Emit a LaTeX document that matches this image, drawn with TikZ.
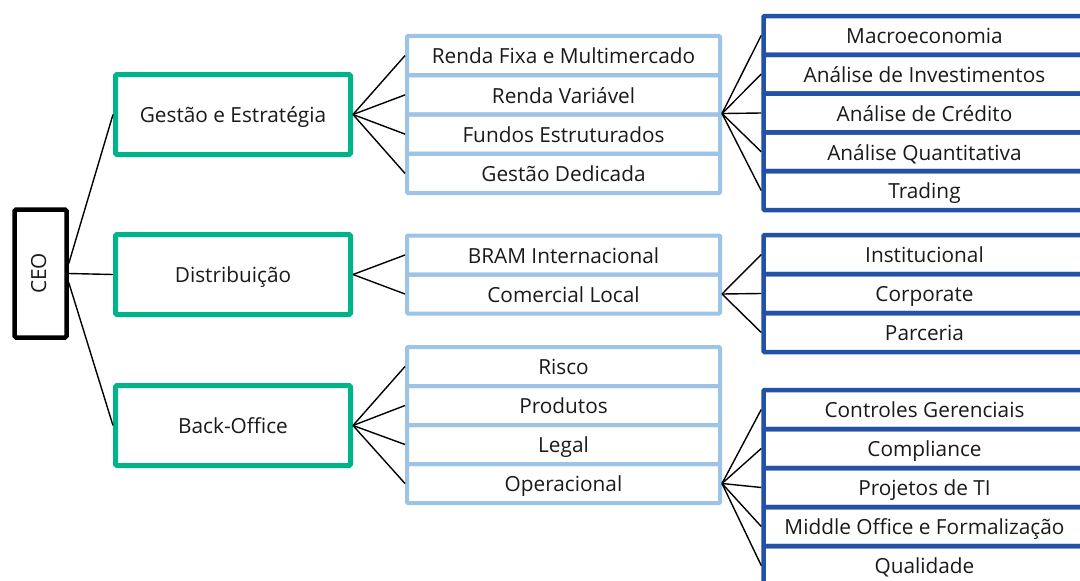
\documentclass[tikz,border=0pt]{standalone}
\usepackage{fontspec}
\setmainfont{Open Sans}
\definecolor{tealg}{HTML}{00B48A}
\definecolor{lblue}{HTML}{9DC3E6}
\definecolor{dblue}{HTML}{2251A5}
\definecolor{txt}{HTML}{1A1A1A}
\begin{document}
\begin{tikzpicture}[x=1pt,y=-1pt,
  every node/.style={font=\fontsize{20.8}{25}\selectfont, text=txt, inner sep=0pt, text height=16.5pt, text depth=0pt},
  ceobox/.style={draw=black, line width=4.5pt, rounded corners=1.5pt, minimum width=52pt, minimum height=128pt},
  lvl1/.style={draw=tealg, line width=5pt, rounded corners=1.5pt, minimum width=235pt, minimum height=80pt},
  lvl2/.style={draw=lblue, line width=4pt, rounded corners=1pt, minimum width=313pt, minimum height=39.25pt},
  lvl3/.style={draw=dblue, line width=4.5pt, rounded corners=1pt, minimum width=322pt, minimum height=38.8pt},
  link/.style={draw=black, line width=1.4pt}]
\useasboundingbox (0,0) rectangle (1080,581);
\fill[white] (0,0) rectangle (1080,581);

% CEO
\node[ceobox] (ceo) at (40.5,273.5) {};
\node[rotate=90, text height=15pt, text depth=4pt] (ceot) at (ceo.center) {CEO};

% level 1
\node[lvl1] (ge) at (233,114.5) {Gestão e Estratégia};
\node[lvl1] (di) at (233,274.5) {Distribuição};
\node[lvl1] (bo) at (233,425.5) {Back-Office};

% level 2 group 1
\node[lvl2] (rf) at (563.5,55.6) {Renda Fixa e Multimercado};
\node[lvl2] (rv) at (563.5,94.9) {Renda Variável};
\node[lvl2] (fe) at (563.5,134.1) {Fundos Estruturados};
\node[lvl2] (gd) at (563.5,173.4) {Gestão Dedicada};
% level 2 group 2
\node[lvl2, minimum height=39pt] (bi) at (563.5,255) {BRAM Internacional};
\node[lvl2, minimum height=39pt] (cl) at (563.5,294) {Comercial Local};
% level 2 group 3
\node[lvl2, minimum height=39pt] (ri) at (563.5,366.5) {Risco};
\node[lvl2, minimum height=39pt] (pr) at (563.5,405.5) {Produtos};
\node[lvl2, minimum height=39pt] (le) at (563.5,444.5) {Legal};
\node[lvl2, minimum height=39pt] (op) at (563.5,483.5) {Operacional};

% level 3 group 1
\node[lvl3] (ma) at (924.5,35.4) {Macroeconomia};
\node[lvl3] (ai) at (924.5,74.2) {Análise de Investimentos};
\node[lvl3] (ac) at (924.5,113) {Análise de Crédito};
\node[lvl3] (aq) at (924.5,151.8) {Análise Quantitativa};
\node[lvl3] (tr) at (924.5,190.6) {Trading};
% level 3 group 2
\node[lvl3, minimum height=39pt] (in) at (924.5,254.5) {Institucional};
\node[lvl3, minimum height=39pt] (co) at (924.5,293.5) {Corporate};
\node[lvl3, minimum height=39pt] (pa) at (924.5,332.5) {Parceria};
% level 3 group 3
\node[lvl3, minimum height=39pt] (cg) at (924.5,409.5) {Controles Gerenciais};
\node[lvl3, minimum height=39pt] (cp) at (924.5,448.5) {Compliance};
\node[lvl3, minimum height=39pt] (pt) at (924.5,487.5) {Projetos de TI};
\node[lvl3, minimum height=39pt] (mo) at (924.5,526.5) {Middle Office e Formalização};
\node[lvl3, minimum height=39pt] (qu) at (924.5,565.5) {Qualidade};

% connectors CEO
\draw[link] ([yshift=10pt]ceo.east) -- (ge.west);
\draw[link] (ceo.east) -- (di.west);
\draw[link] ([yshift=-9pt]ceo.east) -- (bo.west);

% level1 -> level2
\foreach \t in {rf,rv,fe,gd} \draw[link] (ge.east) -- (\t.west);
\foreach \t in {bi,cl} \draw[link] (di.east) -- (\t.west);
\foreach \t in {ri,pr,le,op} \draw[link] (bo.east) -- (\t.west);

% level2 -> level3
\coordinate (g1) at ([yshift=3pt]rv.south east);
\foreach \t in {ma,ai,ac,aq,tr} \draw[link] (g1) -- (\t.west);
\foreach \t in {in,co,pa} \draw[link] (cl.east) -- (\t.west);
\foreach \t in {cg,cp,pt,mo,qu} \draw[link] (op.east) -- (\t.west);
\end{tikzpicture}
\end{document}
